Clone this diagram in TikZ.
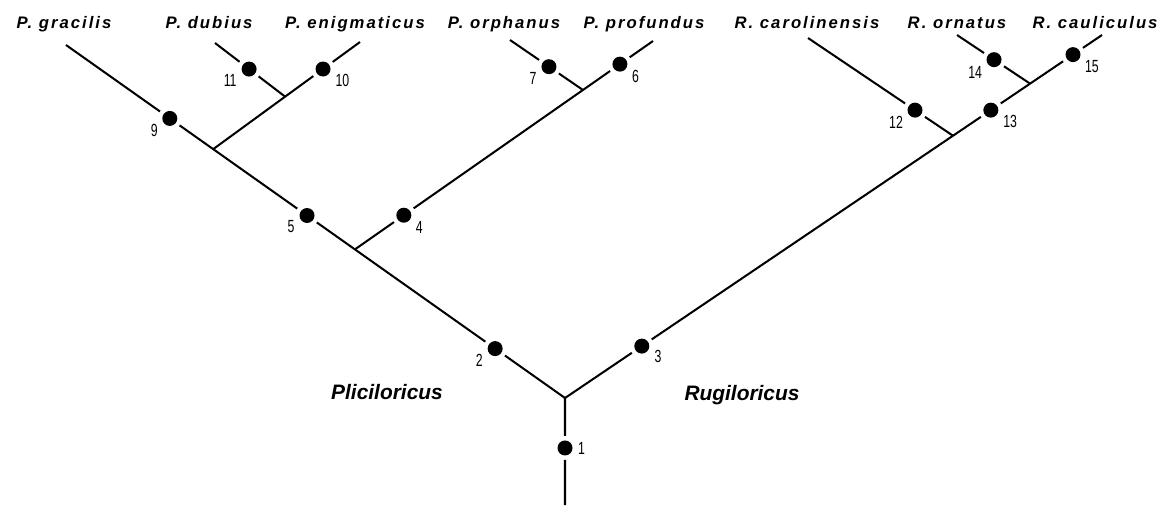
\documentclass[tikz,border=0pt]{standalone}
\usepackage{fontspec}
\usepackage{graphicx}
\usetikzlibrary{calc}
\setsansfont{Liberation Sans}
\newfontfamily\taxfont[LetterSpace=12]{Liberation Sans}
\newcommand{\cnum}[1]{\scalebox{0.7}[1]{#1}}

\tikzset{
  branch/.style={line width=1.15pt},
  dot/.style={circle,fill=black,inner sep=0pt,minimum size=0.3cm,outer sep=0.09cm},
  num/.style={font=\sffamily\fontsize{10}{11}\selectfont,inner sep=0.5pt},
  taxon/.style={font=\taxfont\bfseries\itshape\fontsize{9.5}{11}\selectfont,anchor=base,inner sep=0pt},
  genus/.style={font=\sffamily\bfseries\itshape\fontsize{11.9}{14}\selectfont,anchor=base,inner sep=0pt}
}

\begin{document}
\begin{tikzpicture}[x=0.02cm,y=-0.02cm]
  \useasboundingbox (0,0) rectangle (1162,505);
  % stem, fork and the tips of the tree
  \coordinate (base) at (565,505);
  \coordinate (fork) at (565,398);
  \coordinate (tGra) at (66,45);
  \coordinate (tPro) at (653,41);
  \coordinate (tOrp) at (510,40);
  \coordinate (tEni) at (360,42);
  \coordinate (tDub) at (215,43);
  \coordinate (tCau) at (1102,35);
  \coordinate (tCar) at (808,38);
  \coordinate (tOrn) at (957,35);
  % branching points
  \coordinate (j4)  at ($(fork)!0.421!(tGra)$);
  \coordinate (j9)  at ($(fork)!0.705!(tGra)$);
  \coordinate (j6)  at ($(j4)!0.765!(tPro)$);
  \coordinate (j10) at ($(j9)!0.49!(tEni)$);
  \coordinate (j12) at ($(fork)!0.7225!(tCau)$);
  \coordinate (j14) at ($(fork)!0.866!(tCau)$);

  % character dots with their numbers
  \node[dot,label={[num]0:\cnum{1}}]    (n1)  at ($(fork)!0.467!(base)$) {};
  \node[dot,label={[num]200:\cnum{2}}]  (n2)  at ($(fork)!0.14!(tGra)$) {};
  \node[dot,label={[num]-15:\cnum{3}}]  (n3)  at ($(fork)!0.143!(tCau)$) {};
  \node[dot,label={[num]-25:\cnum{4}}]  (n4)  at ($(j4)!0.164!(tPro)$) {};
  \node[dot,label={[num]200:\cnum{5}}]  (n5)  at ($(fork)!0.517!(tGra)$) {};
  \node[dot,label={[num]-25:\cnum{6}}]  (n6)  at ($(j4)!0.889!(tPro)$) {};
  \node[dot,label={[num]200:\cnum{7}}]  (n7)  at ($(j6)!0.466!(tOrp)$) {};
  \node[dot,label={[num]205:\cnum{9}}]  (n9)  at ($(fork)!0.792!(tGra)$) {};
  \node[dot,label={[num]-20:\cnum{10}}] (n10) at ($(j9)!0.748!(tEni)$) {};
  \node[dot,label={[num]200:\cnum{11}}] (n11) at ($(j10)!0.514!(tDub)$) {};
  \node[dot,label={[num]205:\cnum{12}}] (n12) at ($(j12)!0.262!(tCar)$) {};
  \node[dot,label={[num]-20:\cnum{13}}] (n13) at ($(fork)!0.793!(tCau)$) {};
  \node[dot,label={[num]205:\cnum{14}}] (n14) at ($(j14)!0.493!(tOrn)$) {};
  \node[dot,label={[num]-25:\cnum{15}}] (n15) at ($(fork)!0.946!(tCau)$) {};

  % branches, broken at the dots
  \draw[branch] (base) -- (n1) -- (fork);
  \draw[branch] (fork) -- (n2) -- (j4) -- (n5) -- (j9) -- (n9) -- (tGra);
  \draw[branch] (j4) -- (n4) -- (j6) -- (n6) -- (tPro);
  \draw[branch] (j6) -- (n7) -- (tOrp);
  \draw[branch] (j9) -- (j10) -- (n10) -- (tEni);
  \draw[branch] (j10) -- (n11) -- (tDub);
  \draw[branch] (fork) -- (n3) -- (j12) -- (n13) -- (j14) -- (n15) -- (tCau);
  \draw[branch] (j12) -- (n12) -- (tCar);
  \draw[branch] (j14) -- (n14) -- (tOrn);

  % species names
  \node[taxon] (sGra) at (64,28.5)   {P. gracilis};
  \node[taxon] (sDub) at (209,28.5)  {P. dubius};
  \node[taxon] (sEni) at (355,28.5)  {P. enigmaticus};
  \node[taxon] (sOrp) at (504,28.5)  {P. orphanus};
  \node[taxon] (sPro) at (644,28.5)  {P. profundus};
  \node[taxon] (sCar) at (807,28.5)  {R. carolinensis};
  \node[taxon] (sOrn) at (957,28.5)  {R. ornatus};
  \node[taxon] (sCau) at (1095,28.5) {R. cauliculus};
  % genera
  \node[genus] (gPli) at (387,399) {Pliciloricus};
  \node[genus] (gRug) at (742,400) {Rugiloricus};
\end{tikzpicture}
\end{document}
